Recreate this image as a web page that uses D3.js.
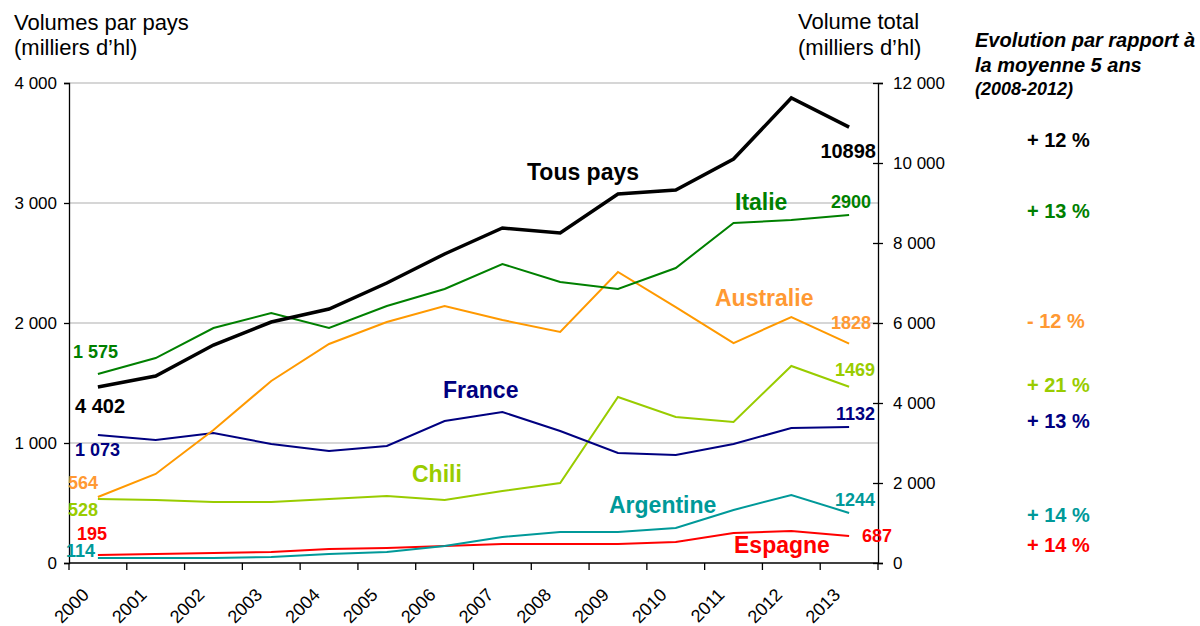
<!DOCTYPE html>
<html>
<head>
<meta charset="utf-8">
<script src="https://cdn.jsdelivr.net/npm/d3@7"></script>
<style>
  body { margin: 0; background: #fff; }
  svg { font-family: Arial, "Liberation Sans", sans-serif; }
</style>
</head>
<body>
<div id="chart"></div>
<script>
// years on the category axis
const years = [2000, 2001, 2002, 2003, 2004, 2005, 2006, 2007, 2008, 2009, 2010, 2011, 2012, 2013]

// volumes, milliers d'hl
const tousPays  = [4400, 4675, 5450, 6025, 6350, 7000, 7725, 8375, 8250, 9225, 9325, 10100, 11625, 10898]
const italie    = [1575, 1708, 1958, 2083, 1958, 2142, 2283, 2492, 2342, 2283, 2458, 2833, 2858, 2900]
const australie = [550, 742, 1108, 1517, 1825, 2008, 2142, 2025, 1925, 2425, 2133, 1833, 2050, 1828]
const chili     = [533, 525, 508, 508, 533, 558, 525, 600, 667, 1383, 1217, 1175, 1642, 1469]
const france    = [1067, 1025, 1083, 992, 933, 975, 1183, 1258, 1100, 917, 900, 992, 1125, 1133]
const argentine = [42, 42, 42, 50, 75, 92, 142, 217, 258, 258, 292, 442, 567, 417]
const espagne   = [67, 75, 83, 92, 117, 125, 142, 158, 158, 158, 175, 250, 267, 225]

const leftTicks = [0, 1000, 2000, 3000, 4000]
const rightTicks = [0, 2000, 4000, 6000, 8000, 10000, 12000]

// evolution vs 5-year average
const evolutions = ["+ 12 %", "+ 13 %", "- 12 %", "+ 21 %", "+ 13 %", "+ 14 %", "+ 14 %"]

const width = 1200, height = 626
const plotL = 69, plotR = 878, plotT = 83, plotB = 563

const svg = d3.select("#chart").append("svg")
    .attr("width", width)
    .attr("height", height)

const x = d3.scaleBand().domain(years).range([plotL, plotR]).padding(0)
const yL = d3.scaleLinear().domain([0, 4000]).range([plotB, plotT])
const yR = d3.scaleLinear().domain([0, 12000]).range([plotB, plotT])

const fmt = d => d3.format(",")(d).replace(/,/g, " ")

// gridlines
svg.append("g")
    .selectAll("line")
    .data(leftTicks.filter(d => d > 0))
    .enter().append("line")
    .attr("x1", plotL).attr("x2", plotR)
    .attr("y1", d => yL(d)).attr("y2", d => yL(d))
    .attr("stroke", "#c8c8c8")
    .attr("stroke-width", 1.3)

// left axis
const axL = svg.append("g")
    .attr("transform", `translate(${plotL},0)`)
    .call(d3.axisLeft(yL).tickValues(leftTicks).tickFormat(fmt).tickSize(5).tickPadding(7))
axL.select(".domain").attr("stroke", "#000").attr("stroke-width", 1.3)
axL.selectAll(".tick line").attr("stroke", "#000").attr("stroke-width", 1.3)
axL.selectAll("text").attr("font-size", 17).attr("fill", "#000")
axL.attr("font-family", null)

// right axis, ticks crossing the line
const axR = svg.append("g")
    .attr("transform", `translate(${plotR},0)`)
    .call(d3.axisRight(yR).tickValues(rightTicks).tickFormat(fmt).tickSize(5).tickPadding(10))
axR.select(".domain").attr("stroke", "#000").attr("stroke-width", 1.3)
axR.selectAll(".tick line").attr("x1", -5).attr("stroke", "#000").attr("stroke-width", 1.3)
axR.selectAll("text").attr("font-size", 17).attr("fill", "#000")
axR.attr("font-family", null)

// x axis, ticks between categories
const xa = svg.append("g").attr("transform", `translate(0,${plotB})`)
xa.append("line").attr("x1", plotL).attr("x2", plotR).attr("stroke", "#000").attr("stroke-width", 1.3)
xa.selectAll(".xt")
    .data(years.concat(["end"]))
    .enter().append("line")
    .attr("class", "xt")
    .attr("x1", d => d === "end" ? plotR : x(d))
    .attr("x2", d => d === "end" ? plotR : x(d))
    .attr("y1", 0).attr("y2", 7)
    .attr("stroke", "#000").attr("stroke-width", 1.3)
xa.selectAll(".xl")
    .data(years)
    .enter().append("text")
    .attr("class", "xl")
    .attr("transform", d => `translate(${x(d) + 21},33) rotate(-45)`)
    .attr("text-anchor", "end")
    .attr("font-size", 18)
    .text(d => d)

// series
const cx = d => x(d) + x.bandwidth() / 2
const series = [
    {vals: espagne, color: "#FF0000", w: 2, y: yL},
    {vals: argentine, color: "#009999", w: 2, y: yL},
    {vals: chili, color: "#99CC00", w: 2, y: yL},
    {vals: france, color: "#000080", w: 2, y: yL},
    {vals: australie, color: "#FF9900", w: 2, y: yL},
    {vals: italie, color: "#008000", w: 2, y: yL},
    {vals: tousPays, color: "#000000", w: 3.5, y: yR}
]

series.forEach(s => {
    const line = d3.line()
        .x((d, i) => cx(years[i]))
        .y(d => s.y(d))
    svg.append("path")
        .datum(s.vals)
        .attr("d", line)
        .attr("fill", "none")
        .attr("stroke", s.color)
        .attr("stroke-width", s.w)
        .attr("stroke-linejoin", "miter")
})

// text helper
function txt(str, tx, ty, opts) {
    opts = opts || {}
    return svg.append("text")
        .attr("x", tx).attr("y", ty)
        .attr("font-size", opts.size || 18)
        .attr("font-weight", opts.weight || "bold")
        .attr("font-style", opts.style || null)
        .attr("fill", opts.color || "#000")
        .attr("text-anchor", opts.anchor || "start")
        .text(str)
}

// headers
txt("Volumes par pays", 14, 30, {size: 22, weight: "normal"})
txt("(milliers d\u2019hl)", 14, 55, {size: 22, weight: "normal"})
txt("Volume total", 798, 29, {size: 22, weight: "normal"})
txt("(milliers d\u2019hl)", 798, 55, {size: 22, weight: "normal"})
txt("Evolution par rapport \u00e0", 975, 47, {size: 20, style: "italic"})
txt("la moyenne 5 ans", 975, 72, {size: 20, style: "italic"})
txt("(2008-2012)", 975, 95, {size: 18, style: "italic"})

// series names
txt("Tous pays", 527, 180, {size: 23, color: "#000"})
txt("Italie", 735, 210, {size: 23, color: "#008000"})
txt("Australie", 715, 306, {size: 23, color: "#FF9933"})
txt("France", 443, 398, {size: 23, color: "#000080"})
txt("Chili", 412, 482, {size: 23, color: "#99CC00"})
txt("Argentine", 609, 513, {size: 23, color: "#009999"})
txt("Espagne", 734, 553, {size: 23, color: "#FF0000"})

// start / end value labels
txt("1 575", 73, 358, {color: "#008000"})
txt("4 402", 75, 413, {size: 20, color: "#000"})
txt("1 073", 75, 456, {color: "#000080"})
txt("564", 68, 489, {color: "#FF9933"})
txt("528", 68, 516, {color: "#99CC00"})
txt("195", 77, 540, {color: "#FF0000"})
txt("114", 66, 557, {color: "#009999"})

txt("10898", 876, 158, {size: 20, anchor: "end", color: "#000"})
txt("2900", 871, 208, {color: "#008000", anchor: "end"})
txt("1828", 871, 329, {color: "#FF9933", anchor: "end"})
txt("1469", 875, 376, {color: "#99CC00", anchor: "end"})
txt("1132", 875, 420, {color: "#000080", anchor: "end"})
txt("1244", 875, 506, {color: "#009999", anchor: "end"})
txt("687", 862, 542, {color: "#FF0000"})

// evolution column
const evoColors = ["#000000", "#008000", "#FF9933", "#99CC00", "#000080", "#009999", "#FF0000"]
const evoY = [147, 218, 328, 392, 428, 522, 552]
evolutions.forEach((e, i) => txt(e, 1027, evoY[i], {size: 20, color: evoColors[i]}))
</script>
</body>
</html>
